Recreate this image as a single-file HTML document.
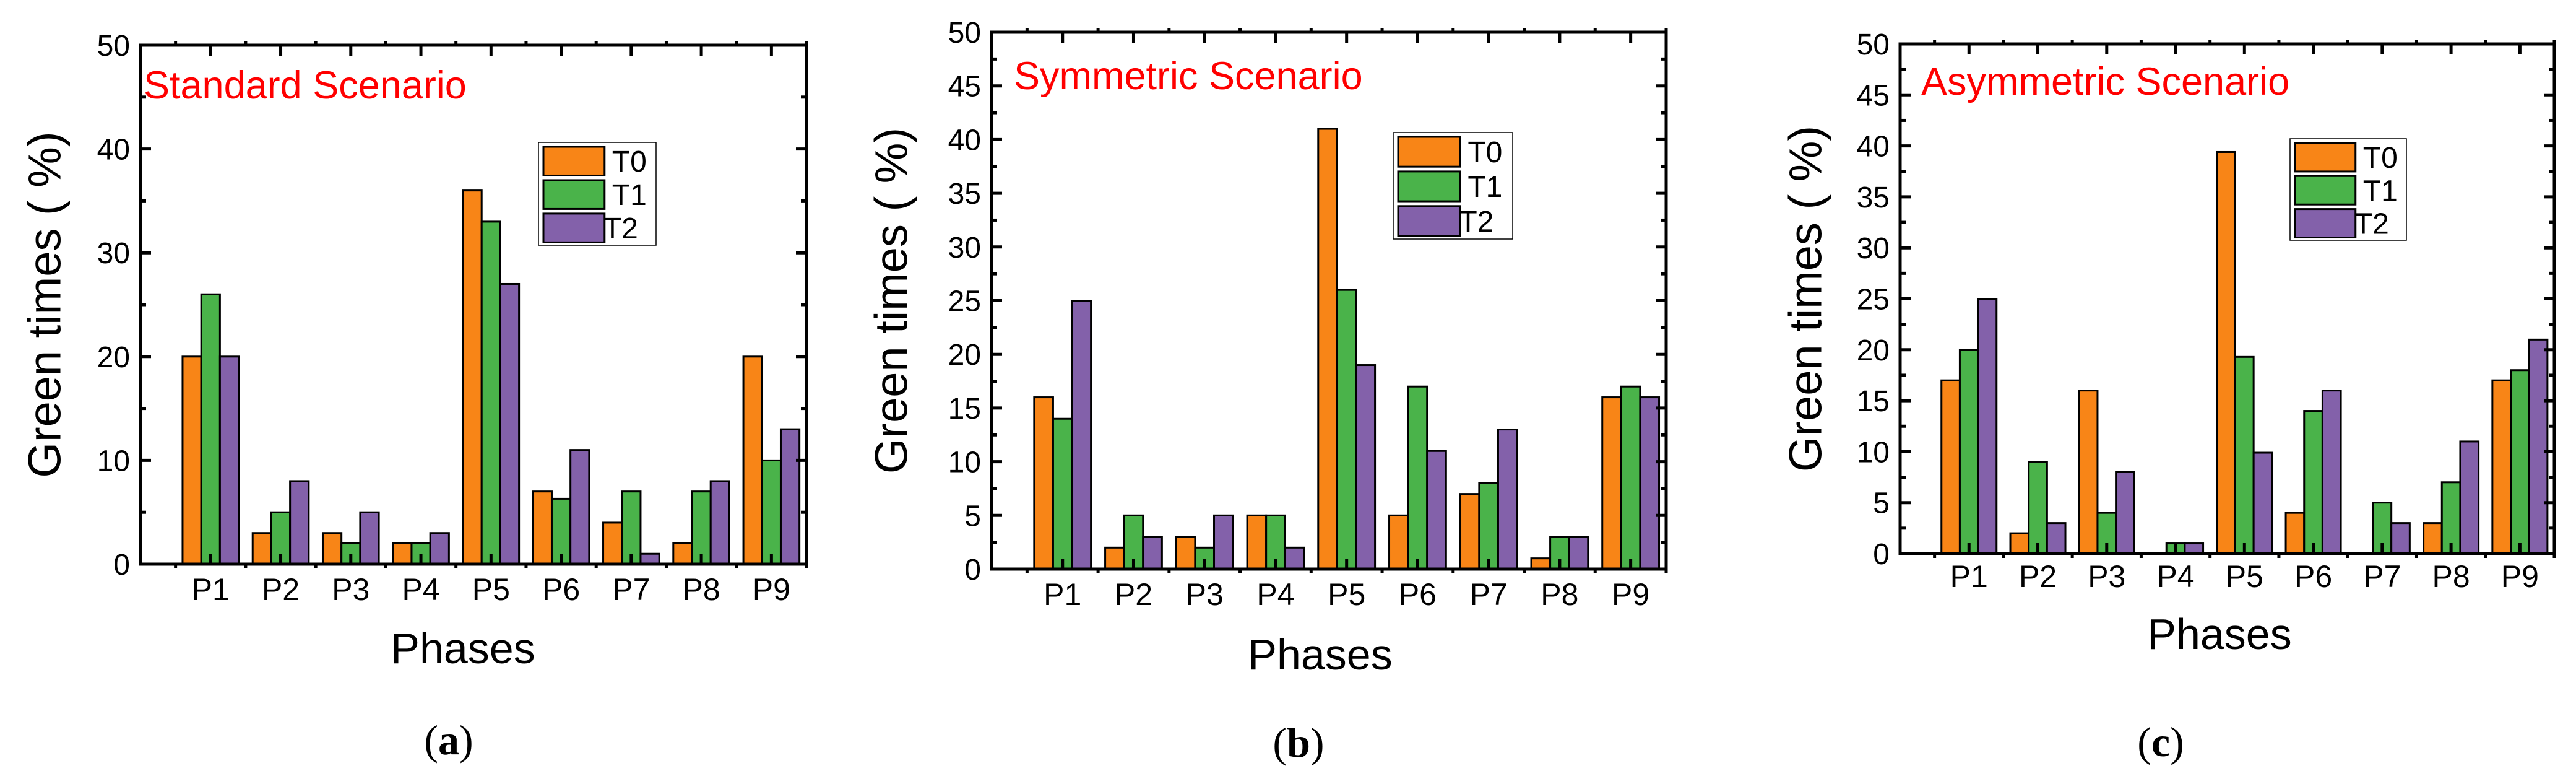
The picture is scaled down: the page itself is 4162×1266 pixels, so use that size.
<!DOCTYPE html>
<html><head><meta charset="utf-8"><style>
html,body{margin:0;padding:0;background:#fff;}
svg{display:block;font-family:"Liberation Sans",Arial,sans-serif;}
</style></head><body>
<svg id="fig" width="4162" height="1266" viewBox="0 0 4162 1266" xmlns="http://www.w3.org/2000/svg"></svg>
<script>
const categories = ["P1","P2","P3","P4","P5","P6","P7","P8","P9"];
const seriesNames = ["T0","T1","T2"];
const standardT0 = [20,3,3,2,36,7,4,2,20];
const standardT1 = [26,5,2,2,33,6.3,7,7,10];
const standardT2 = [20,8,5,3,27,11,1,8,13];
const symmetricT0 = [16,2,3,5,41,5,7,1,16];
const symmetricT1 = [14,5,2,5,26,17,8,3,17];
const symmetricT2 = [25,3,5,2,19,11,13,3,16];
const asymmetricT0 = [17,2,16,0,39.4,4,0,3,17];
const asymmetricT1 = [20,9,4,1,19.3,14,5,7,18];
const asymmetricT2 = [25,3,8,1,9.9,16,3,11,21];
const ticksA = [0,10,20,30,40,50];
const ticksBC = [0,5,10,15,20,25,30,35,40,45,50];
const titles = ["Standard Scenario","Symmetric Scenario","Asymmetric Scenario"];
const captions = ["a","b","c"];

const colors = ["#F88517","#4AB34A","#8361AA"];
const NS = "http://www.w3.org/2000/svg";
const svg = document.getElementById("fig");
function mk(tag, attrs, parent, text){
  const e = document.createElementNS(NS, tag);
  for (const k in attrs) e.setAttribute(k, attrs[k]);
  if (text !== undefined) e.textContent = text;
  (parent || svg).appendChild(e);
  return e;
}
const panels = [
  {id:"a", L:227,R:1303,T:73,B:911, ymax:50, ticks:ticksA, minorStep:5, series:[standardT0,standardT1,standardT2],
   title:[232,159], legend:[870,230,190,166], ylx:72, xtb:969, ph:[748,1071], cap:[725,1218]},
  {id:"b", L:1602,R:2692,T:52,B:919, ymax:50, ticks:ticksBC, minorStep:2.5, series:[symmetricT0,symmetricT1,symmetricT2],
   title:[1638,144], legend:[2251,214,193,172], ylx:1440, xtb:977, ph:[2133,1081], cap:[2098,1222]},
  {id:"c", L:3070,R:4127,T:71,B:894, ymax:50, ticks:ticksBC, minorStep:2.5, series:[asymmetricT0,asymmetricT1,asymmetricT2],
   title:[3104,153], legend:[3700,224,188,164], ylx:2917, xtb:948, ph:[3586,1048], cap:[3491,1221]}
];
panels.forEach((p, pi) => {
  const g = mk("g", {});
  
  
  const xs = v => p.L + (v) * (p.R - p.L) / 9.5;
  const ys = v => p.B - v * (p.B - p.T) / p.ymax;
  const bw = (p.R - p.L) / 9.5 * 0.8 / 3;
  p.series.forEach((arr, si) => {
    arr.forEach((v, ci) => {
      const cx = xs(ci + 1);
      const x = cx - 1.5 * bw + si * bw;
      const r = mk("rect", {x:x, y:ys(v), width:bw, height:ys(0)-ys(v), fill:colors[si], stroke:"#000", "stroke-width":3}, g);
      
      
    });
  });
  const fr = mk("rect", {x:p.L, y:p.T, width:p.R-p.L, height:p.B-p.T, fill:"none", stroke:"#000", "stroke-width":5}, g);
  
  
  for (let v = 0; v <= p.ymax + 0.001; v += p.minorStep) {
    const major = p.ticks.indexOf(v) >= 0;
    const len = major ? 17 : 9;
    mk("line", {x1:p.L, x2:p.L+len, y1:ys(v), y2:ys(v), stroke:"#000","stroke-width":5}, g);
    mk("line", {x1:p.R, x2:p.R-len, y1:ys(v), y2:ys(v), stroke:"#000","stroke-width":5}, g);
  }
  p.ticks.forEach(v => {
    const t = mk("text", {x:p.L-17, y:ys(v)+17, "text-anchor":"end", "font-size":48}, g, String(v));
    
    
  });
  for (let i = 0; i < 9; i++) {
    const cx = xs(i + 1);
    mk("line", {x1:cx, x2:cx, y1:p.B, y2:p.B-17, stroke:"#000","stroke-width":5}, g);
    mk("line", {x1:cx, x2:cx, y1:p.T, y2:p.T+17, stroke:"#000","stroke-width":5}, g);
    const t = mk("text", {x:cx, y:p.xtb, "text-anchor":"middle", "font-size":50}, g, categories[i]);
    
    
  }
  for (let i = 0; i < 10; i++) {
    const hx = xs(i + 0.5);
    mk("line", {x1:hx, x2:hx, y1:p.B, y2:p.B+7, stroke:"#000","stroke-width":5}, g);
    mk("line", {x1:hx, x2:hx, y1:p.T, y2:p.T-7, stroke:"#000","stroke-width":5}, g);
  }
  const tt = mk("text", {x:p.title[0], y:p.title[1], fill:"#FF0000", "font-size":63}, g, titles[pi]);
  
  
  const lg = mk("g", {}, g);
  
  
  const [lx, ly, lw, lh] = p.legend;
  mk("rect", {x:lx, y:ly, width:lw, height:lh, fill:"#fff", stroke:"#000", "stroke-width":1.5}, lg);
  const sw = lw * 0.52, sh = lh * 0.28, step = lh * 0.325;
  seriesNames.forEach((n, si) => {
    const sy = ly + 7 + si * step;
    const e = mk("g", {}, lg);
    
    
    mk("rect", {x:lx+8, y:sy, width:sw, height:sh, fill:colors[si], stroke:"#000", "stroke-width":3}, e);
    const tx = si === 2 ? lx + 8 + sw - 2 : lx + 8 + sw + 12;
    mk("text", {x:tx, y:sy + sh*0.5 + 17, "font-size":48}, e, n);
  });
  const cy = (p.T + p.B) / 2;
  const yl = mk("text", {x:p.ylx, y:cy, "text-anchor":"middle", "dominant-baseline":"central", "font-size":74, transform:"rotate(-90 " + p.ylx + " " + cy + ")"}, g, "Green times ( %)");
  
  
  const xl = mk("text", {x:p.ph[0], y:p.ph[1], "text-anchor":"middle", "font-size":70}, g, "Phases");
  
  
  const cap = mk("text", {x:p.cap[0], y:p.cap[1], "text-anchor":"middle", "font-size":68, "font-family":"Liberation Serif, serif"}, g);
  
  
  mk("tspan", {}, cap, "(");
  mk("tspan", {"font-weight":"bold"}, cap, captions[pi]);
  mk("tspan", {}, cap, ")");
});
</script>
</body></html>
